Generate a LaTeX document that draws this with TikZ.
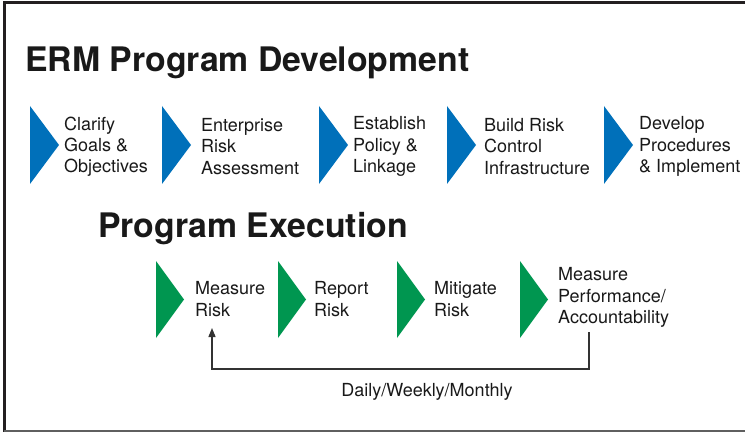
\documentclass[tikz,border=0pt]{standalone}
\usepackage{fontspec}
\setmainfont{TeX Gyre Heros}
\usetikzlibrary{arrows.meta}
\definecolor{stepblue}{RGB}{0,112,186}
\definecolor{stepgreen}{RGB}{0,150,80}
\definecolor{framedark}{RGB}{35,31,32}
\definecolor{framegrey}{RGB}{95,95,95}
\begin{document}
\begin{tikzpicture}[x=1pt,y=-1pt,
  steptext/.style={anchor=west,align=left,inner sep=0pt,font=\fontsize{18}{21.2}\selectfont,text=black!90},
  heading/.style={anchor=west,inner sep=0pt,font=\fontsize{33.8}{38}\selectfont\bfseries,text=black!90},
  bluetri/.style={fill=stepblue},
  greentri/.style={fill=stepgreen},
  loopline/.style={draw=black!80,line width=1.3pt,-{Triangle[width=7pt,length=9pt]}}
]
\useasboundingbox (0,0) rectangle (745,433);
% frame
\draw[framedark,line width=3pt] (745,2.5) -- (4.5,2.5) -- (4.5,432);
\draw[framegrey,line width=2pt] (3.5,431) -- (745,431);

% headings
\node[heading] (h1) at (25,62.5) {ERM Program Development};
\node[heading] (h2) at (98,228.5) {Program Execution};

% blue steps
\foreach \x in {30,162,319,447,604}{
  \fill[bluetri] (\x,106) -- (\x+29,145) -- (\x,184) -- cycle;
}
\node[steptext] (s1) at (64,146.5) {Clarify\\Goals \&\\Objectives};
\node[steptext] (s2) at (201,146.5) {Enterprise\\Risk\\Assessment};
\node[steptext] (s3) at (353,146.5) {Establish\\Policy \&\\Linkage};
\node[steptext] (s4) at (484,146.5) {Build Risk\\Control\\Infrastructure};
\node[steptext] (s5) at (639,146.5) {Develop\\Procedures\\\& Implement};

% green steps
\foreach \x in {156,278,397,520}{
  \fill[greentri] (\x,261) -- (\x+28,299.5) -- (\x,338) -- cycle;
}
\node[steptext] (e1) at (195,299) {Measure\\Risk};
\node[steptext] (e2) at (314,299) {Report\\Risk};
\node[steptext] (e3) at (434,299) {Mitigate\\Risk};
\node[steptext] (e4) at (558,297.5) {Measure\\Performance/\\Accountability};

% feedback loop
\coordinate (loopstart) at (589,332);
\coordinate (loopend) at (212,328);
\draw[loopline] (loopstart) -- ++(0,37) -| (loopend);
\node[steptext,anchor=center] (freq) at (427,391.5) {Daily/Weekly/Monthly};
\end{tikzpicture}
\end{document}
